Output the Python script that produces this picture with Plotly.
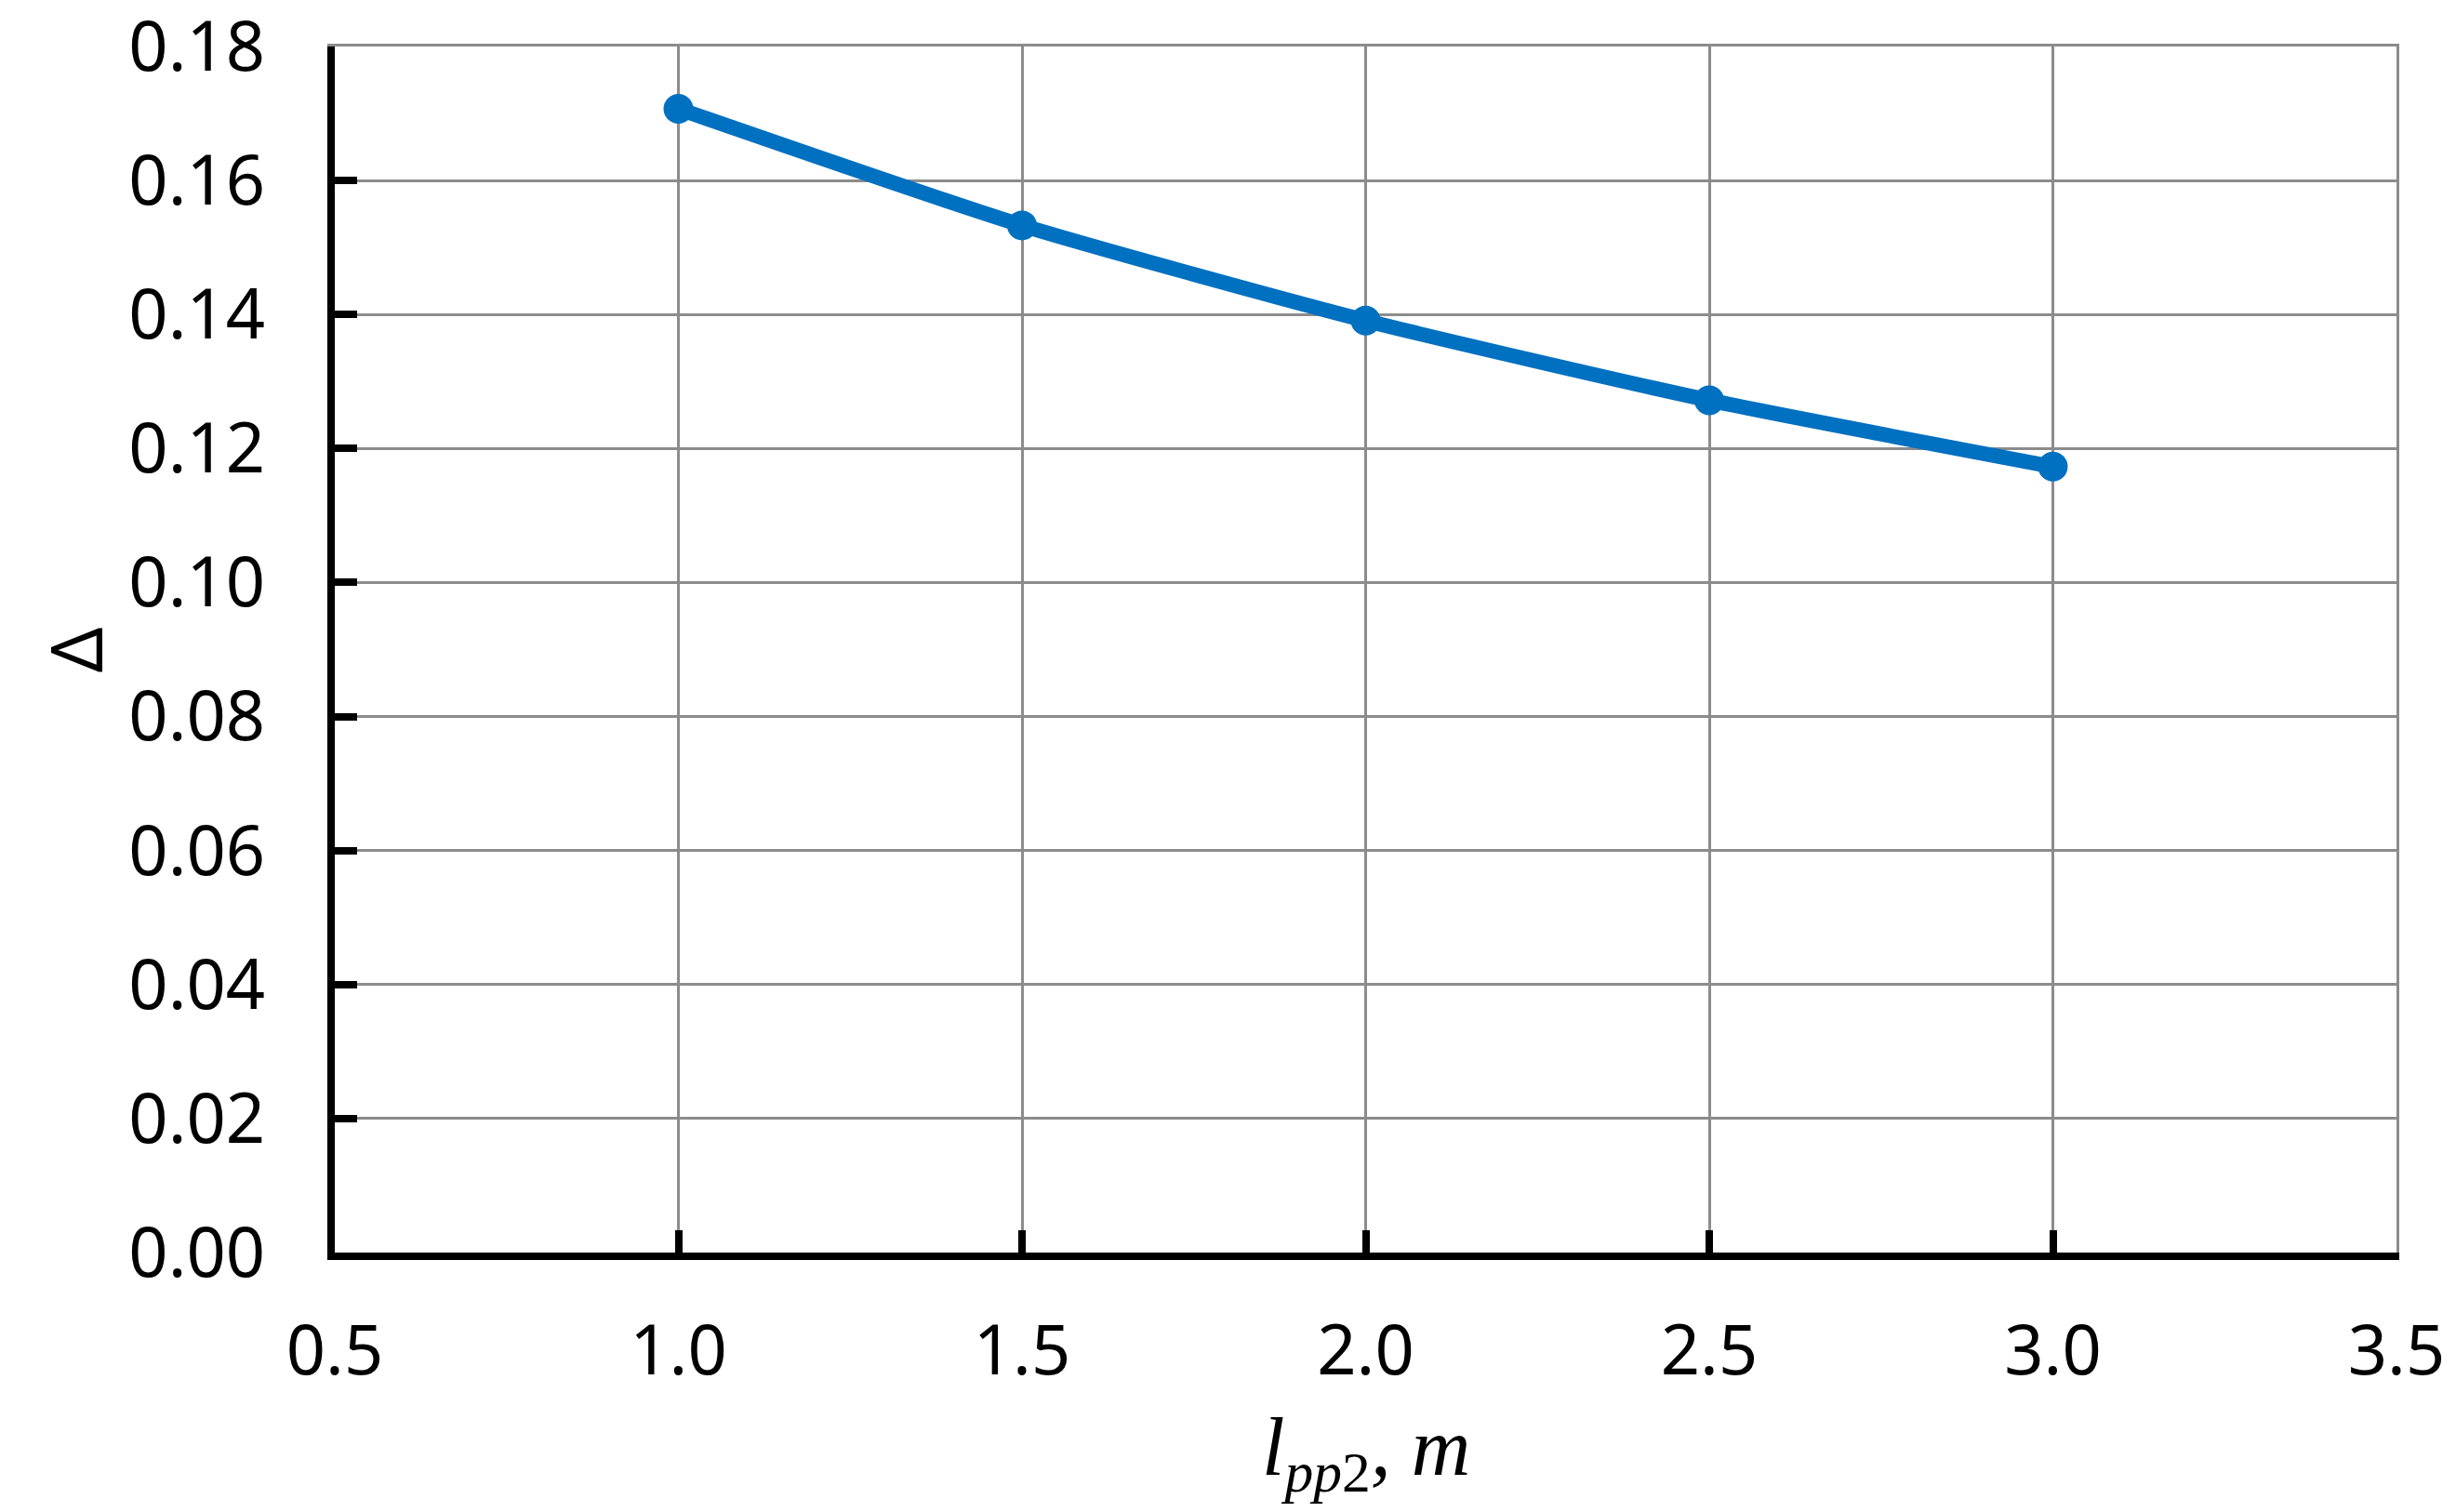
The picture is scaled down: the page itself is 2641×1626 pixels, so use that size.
import plotly.graph_objects as go

# Data
l_pp2 = [1.0, 1.5, 2.0, 2.5, 3.0]
delta = [0.1707, 0.1533, 0.1391, 0.1272, 0.1173]

x_ticks = [0.5, 1.0, 1.5, 2.0, 2.5, 3.0, 3.5]
y_ticks = [0.00, 0.02, 0.04, 0.06, 0.08, 0.10, 0.12, 0.14, 0.16, 0.18]

fig = go.Figure()

# invisible copy on the secondary axes so the gray top/right edges get drawn
fig.add_trace(go.Scatter(
    x=l_pp2, y=delta, xaxis='x2', yaxis='y2',
    mode='lines', line=dict(width=0), opacity=0,
    hoverinfo='skip', showlegend=False,
))

fig.add_trace(go.Scatter(
    x=l_pp2, y=delta,
    mode='lines+markers',
    line=dict(color='#0070C0', width=16, shape='spline', smoothing=0.6),
    marker=dict(color='#0070C0', size=32),
    showlegend=False,
))

axis_common = dict(
    showline=True, linecolor='black', linewidth=8,
    ticks='inside', ticklen=24, tickwidth=8, tickcolor='black',
    showgrid=True, gridcolor='#8c8c8c', gridwidth=3,
    zeroline=False, automargin=False, ticklabeloverflow='allow',
    tickfont=dict(family='Noto Sans', size=74, color='black'),
)

fig.update_layout(
    xaxis=dict(range=[0.5, 3.5], tickvals=x_ticks, tickformat='.1f',
               ticklabelstandoff=34, **axis_common),
    yaxis=dict(range=[0, 0.18], tickvals=y_ticks, tickformat='.2f',
               ticklabelstandoff=52, **axis_common),
)

edge = dict(showline=True, linecolor='#8c8c8c', linewidth=3, showgrid=False,
            zeroline=False, ticks='', showticklabels=False, automargin=False)
fig.update_layout(
    xaxis2=dict(overlaying='x', side='top', anchor='y2', range=[0.5, 3.5], **edge),
    yaxis2=dict(overlaying='y', side='right', anchor='x2', range=[0, 0.18], **edge),
)

# axis titles as annotations so they sit where the reference puts them
fig.add_annotation(
    text='<i>l</i><sub><i>pp</i>2</sub><i>, m</i>',
    xref='paper', yref='paper', x=0.5, y=-0.166,
    xanchor='center', yanchor='middle', showarrow=False,
    font=dict(family='Liberation Serif', size=88, color='black'),
)
fig.add_annotation(
    text='Δ',
    xref='paper', yref='paper', x=-0.126, y=0.5,
    xanchor='center', yanchor='middle', showarrow=False, textangle=-90,
    font=dict(family='Noto Sans', size=76, color='black'),
)

fig.update_layout(
    width=2641, height=1626,
    margin=dict(l=352, r=72, t=42, b=287),
    plot_bgcolor='white', paper_bgcolor='white',
)

fig.write_html("out.html")
